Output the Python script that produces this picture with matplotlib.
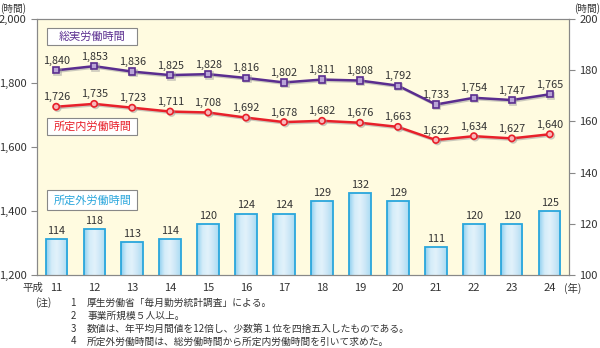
import numpy as np
import matplotlib.pyplot as plt
from matplotlib.patches import Rectangle
import matplotlib.patheffects as pe
from matplotlib.colors import LinearSegmentedColormap

plt.rcParams['font.family'] = ['Noto Sans CJK JP', 'DejaVu Sans']

years = ['11', '12', '13', '14', '15', '16', '17', '18', '19', '20', '21', '22', '23', '24']
total_hours = [1840, 1853, 1836, 1825, 1828, 1816, 1802, 1811, 1808, 1792, 1733, 1754, 1747, 1765]
scheduled_hours = [1726, 1735, 1723, 1711, 1708, 1692, 1678, 1682, 1676, 1663, 1622, 1634, 1627, 1640]
overtime_hours = [114, 118, 113, 114, 120, 124, 124, 129, 132, 129, 111, 120, 120, 125]
notes = [
    ('1', '厚生労働省「毎月勤労統計調査」による。'),
    ('2', '事業所規模５人以上。'),
    ('3', '数値は、年平均月間値を12倍し、少数第１位を四捨五入したものである。'),
    ('4', '所定外労働時間は、総労働時間から所定内労働時間を引いて求めた。'),
]

purple = '#5a2d8f'
red = '#e8202a'
blue = '#2aa6dc'
txt = '#333333'

fig = plt.figure(figsize=(6, 3.48), dpi=100)
ax = fig.add_axes([0.062, 0.21, 0.886, 0.735])
ax2 = ax.twinx()
ax.set_zorder(2)
ax.patch.set_visible(False)
ax2.patch.set_facecolor('#fffbe0')
ax2.patch.set_visible(True)

x = range(len(years))

# bars on right axis, with a light gradient inside
bar_cmap = LinearSegmentedColormap.from_list('barfill', ['#8fd0ef', '#d4ecf9', '#e2f2fb', '#cbe7f7', '#a9dbf2'])
grad = np.linspace(0, 1, 64).reshape(1, -1)
bars = ax2.bar(x, overtime_hours, width=0.56, color='none', edgecolor=blue, linewidth=1.3, zorder=3)
for b in bars:
    im = ax2.imshow(grad, cmap=bar_cmap, aspect='auto', zorder=2,
                    extent=[b.get_x(), b.get_x() + b.get_width(), 100, b.get_height()])
    im.set_clip_path(b)
for i, v in enumerate(overtime_hours):
    ax2.text(i, v + 1.2, str(v), ha='center', va='bottom', fontsize=7.8, color=txt)
ax2.set_ylim(100, 200)
ax2.set_xlim(-0.5, len(years) - 0.5)
ax2.set_yticks([100, 120, 140, 160, 180, 200])

shadow = [pe.SimpleLineShadow(offset=(1, -1), shadow_color='#999999', alpha=0.5), pe.Normal()]
ax.plot(x, total_hours, color=purple, lw=1.8, marker='s', ms=4.5, mfc='#b9a4d6', mec=purple, mew=1.2,
        path_effects=shadow, zorder=4)
ax.plot(x, scheduled_hours, color=red, lw=1.8, marker='o', ms=4.5, mfc='#f7b8bb', mec=red, mew=1.2,
        path_effects=shadow, zorder=4)
for i in x:
    ax.text(i, total_hours[i] + 14, f'{total_hours[i]:,}', ha='center', va='bottom', fontsize=7.8, color=txt)
    ax.text(i, scheduled_hours[i] + 14, f'{scheduled_hours[i]:,}', ha='center', va='bottom', fontsize=7.8, color=txt)

ax.set_ylim(1200, 2000)
ax.set_yticks([1200, 1400, 1600, 1800, 2000])
ax.set_yticklabels([f'{v:,}' for v in [1200, 1400, 1600, 1800, 2000]])
ax.set_xlim(-0.5, len(years) - 0.5)
ax.set_xticks(list(x))
ax.set_xticklabels(years)

for a in (ax, ax2):
    for s in a.spines.values():
        s.set_color('#888888')
        s.set_linewidth(0.8)
    a.tick_params(labelsize=8, colors='#888888', labelcolor=txt, length=4, width=0.8)
ax.tick_params(axis='x', length=0, pad=6)

# label boxes
def label_box(y0, y1, text, color):
    ax.add_patch(Rectangle((0.019, y0), 0.169, y1 - y0, transform=ax.transAxes, fc='white',
                           ec='#888888', lw=0.8, zorder=6))
    ax.text(0.1035, (y0 + y1) / 2, text, transform=ax.transAxes, ha='center', va='center',
            fontsize=8, color=color, zorder=7)

label_box(0.898, 0.965, '総実労働時間', purple)
label_box(0.547, 0.613, '所定内労働時間', red)
label_box(0.254, 0.332, '所定外労働時間', blue)

fig.text(0.0, 0.99, '(時間)', fontsize=7, color=txt, va='top')
fig.text(1.0, 0.99, '(時間)', fontsize=7, color=txt, va='top', ha='right')
fig.text(0.038, 0.172, '平成', fontsize=7.5, color=txt, va='center', ha='left')
fig.text(0.94, 0.172, '(年)', fontsize=7.5, color=txt, va='center', ha='left')

fig.text(0.058, 0.13, '(注)', fontsize=7, color=txt, va='center')
for k, (num, line) in enumerate(notes):
    yy = 0.13 - k * 0.037
    fig.text(0.122, yy, num, fontsize=7, color=txt, va='center', ha='center')
    fig.text(0.145, yy, line, fontsize=7, color=txt, va='center')

fig.savefig('out.png', dpi=100)
